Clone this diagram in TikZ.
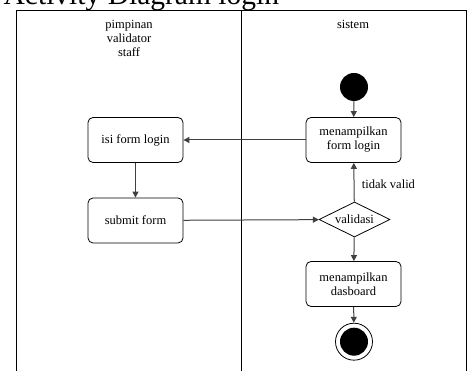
\documentclass[tikz,border=0pt]{standalone}
\usepackage{fontspec}
\setmainfont{Liberation Serif}
\usetikzlibrary{shapes.geometric,arrows.meta}
\begin{document}
\begin{tikzpicture}[x=1pt,y=-1pt,
  every node/.style={font=\fontsize{12.5}{14}\selectfont},
  act/.style={draw, rounded corners=5pt, minimum width=95pt, minimum height=45pt, align=center, inner sep=1pt, line width=0.8pt},
  dec/.style={draw, diamond, minimum width=71pt, minimum height=35pt, inner sep=0pt, aspect=2, line width=0.8pt},
  flow/.style={draw=black!75, line width=1pt, -{Triangle[length=6pt,width=6pt]}, shorten >=0pt},
  lane/.style={draw, line width=0.8pt}]
\useasboundingbox (0,0) rectangle (467,371);
\clip (0,0) rectangle (467,371);
% title
\node[anchor=base west, inner sep=0pt, font=\fontsize{29.5}{29.5}\selectfont] (title) at (3.5,5) {Activity Diagram login};
% lanes
\draw[lane] (16,380) -- (16,10) -- (466,10) -- (466,380);
\draw[lane] (241,10) -- (241,380);
\node[align=center, anchor=north] (lane1) at (129,17) {pimpinan\\validator\\staff};
\node[anchor=north] (lane2) at (353,17) {sistem};
% nodes
\node[circle, fill=black, minimum size=28pt, inner sep=0pt] (start) at (354,87) {};
\node[act] (mfl) at (353.5,140) {menampilkan\\form login};
\node[act] (ifl) at (135.5,140) {isi form login};
\node[act] (sub) at (135.5,220.5) {submit form};
\node[dec] (val) at (354.5,219.5) {validasi};
\node[act] (mdb) at (353.5,284) {menampilkan\\dasboard};
\node[circle, draw, line width=0.8pt, minimum size=37pt, inner sep=0pt] (end) at (354,341.7) {};
\node[circle, fill=black, minimum size=28pt, inner sep=0pt] (endin) at (354,341.7) {};
% flows
\draw[flow] (start) -- (mfl);
\draw[flow] (mfl) -- (ifl);
\draw[flow] (ifl) -- (sub);
\draw[flow] (sub) -- (val);
\draw[flow] (val) -- node[right, xshift=4pt, yshift=-2pt] (lbl) {tidak valid} (mfl);
\draw[flow] (val) -- (mdb);
\draw[flow] (mdb) -- (end);
\end{tikzpicture}
\end{document}
